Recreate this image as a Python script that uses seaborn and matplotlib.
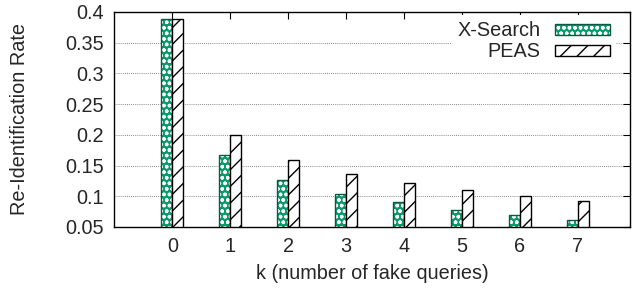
import matplotlib
matplotlib.use("Agg")
import matplotlib.pyplot as plt
from matplotlib import colors as mcolors
import seaborn as sns
import pandas as pd

k_values = [0, 1, 2, 3, 4, 5, 6, 7]
xsearch = [0.388, 0.167, 0.126, 0.104, 0.091, 0.078, 0.069, 0.061]
peas = [0.388, 0.200, 0.159, 0.137, 0.122, 0.110, 0.100, 0.092]
series_names = ["X-Search", "PEAS"]
y_ticks = [0.05, 0.1, 0.15, 0.2, 0.25, 0.3, 0.35, 0.4]
y_tick_labels = ["0.05", "0.1", "0.15", "0.2", "0.25", "0.3", "0.35", "0.4"]

sns.set_theme(style="white")
plt.rcParams['font.family'] = ['Liberation Sans', 'DejaVu Sans']
plt.rcParams['hatch.linewidth'] = 1.0

df = pd.DataFrame({
    "k": [str(k) for k in k_values] * 2,
    "rate": xsearch + peas,
    "series": [series_names[0]] * len(k_values) + [series_names[1]] * len(k_values),
})

FS = 14.3
fig = plt.figure(figsize=(6.33, 2.91), dpi=100)
ax = fig.add_axes([0.180, 0.220, 0.815, 0.739])

green = "#0a9a6c"
dark_green = "#0b5a3f"
sns.barplot(data=df, x="k", y="rate", hue="series", order=[str(k) for k in k_values],
            hue_order=series_names, palette=[green, "white"], width=0.38, gap=0,
            ax=ax, zorder=3, legend=True)


def style(p, name):
    if name == "X-Search":
        p.set_facecolor(green)
        p.set_edgecolor(dark_green)
        p.set_linewidth(1.0)
        p.set_hatch("ooo")
        p._hatch_color = mcolors.to_rgba("white")
    else:
        p.set_facecolor("white")
        p.set_edgecolor("black")
        p.set_linewidth(1.0)
        p.set_hatch("//")
        p._hatch_color = mcolors.to_rgba("black")


for cont, name in zip(ax.containers, series_names):
    for p in cont:
        style(p, name)

ax.set_ylim(0.05, 0.4)
ax.set_xlim(-1.01, 7.9)
ax.set_yticks(y_ticks)
ax.set_yticklabels(y_tick_labels)
ax.set_xlabel("k (number of fake queries)", fontsize=FS, labelpad=6)
ax.set_ylabel("Re-Identification Rate", fontsize=FS, labelpad=26)
ax.tick_params(axis="both", which="both", direction="in", length=5, width=0.8,
               top=True, right=True, labelsize=FS, color="black", pad=7)
ax.yaxis.grid(True, linestyle=(0, (1, 1.5)), color="#666666", linewidth=0.6, zorder=0)
ax.xaxis.grid(False)
ax.set_axisbelow(True)
for s in ax.spines.values():
    s.set_color("black")
    s.set_linewidth(1.0)
    s.set_zorder(5)

leg = ax.legend(loc="upper right", bbox_to_anchor=(0.993, 1.03), markerfirst=False,
                frameon=True, fontsize=FS, handlelength=2.8, handleheight=0.5,
                labelspacing=0.1, borderpad=0.3, handletextpad=0.7)
leg.get_frame().set_edgecolor("none")
leg.get_frame().set_facecolor("white")
leg.get_frame().set_alpha(1)
leg.set_zorder(6)
for h, name in zip(leg.legend_handles, series_names):
    style(h, name)

fig.savefig("out.png", dpi=100)
